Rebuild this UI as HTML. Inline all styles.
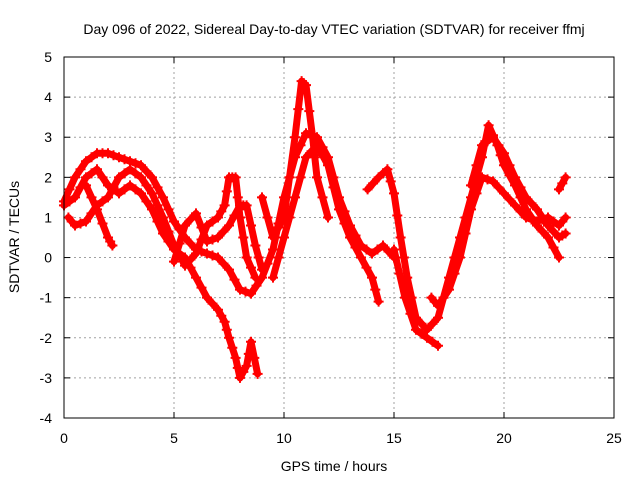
<!DOCTYPE html>
<html><head><meta charset="utf-8"><style>
body{margin:0;background:#fff;}
svg{display:block;font-family:"Liberation Sans",sans-serif;}
</style></head><body>
<svg id="chart" width="640" height="480" viewBox="0 0 640 480">
<rect width="640" height="480" fill="#fff"/>
<text x="334" y="34" font-size="14" text-anchor="middle">Day 096 of 2022, Sidereal Day-to-day VTEC variation (SDTVAR) for receiver ffmj</text>
<g id="grid"></g>
<g id="ticks"></g>
<g id="series"></g>
<rect x="64" y="57" width="550" height="361" fill="none" stroke="#000" stroke-width="1"/>
<text x="334" y="471" font-size="14" text-anchor="middle">GPS time / hours</text>
<text transform="translate(19,237) rotate(-90)" font-size="14" text-anchor="middle">SDTVAR / TECUs</text>
</svg>
<script>
const xTicks=[0,5,10,15,20,25];
const yTicks=[-4,-3,-2,-1,0,1,2,3,4,5];
const trackA=[[0,1.4],[0.5,2.0],[1,2.4],[1.5,2.6],[2,2.6],[2.5,2.5],[3,2.4],[3.5,2.3],[4,2.0],[4.5,1.5],[5,0.9],[5.5,0.5],[6,0.2],[6.5,0.1],[7,0.0],[7.5,-0.3],[8,-0.8],[8.5,-0.9],[9,-0.5],[9.5,0.2],[10,1.5],[10.5,2.5],[11,3.1],[11.5,3.0],[12,2.5],[12.5,1.5],[13,0.8],[13.5,0.3],[14,0.1],[14.5,0.3],[15,0.0]];
const trackB=[[0,1.3],[0.5,1.5],[1,2.0],[1.5,2.2],[2,1.8],[2.5,1.6],[3,1.8],[3.5,1.6],[4,1.2],[4.5,0.6],[5,0.2],[5.5,0.0],[6,-0.5],[6.5,-1.0],[7,-1.3],[7.3,-1.6],[7.5,-2.0],[7.8,-2.5],[8,-3.0],[8.3,-2.7],[8.5,-2.1],[8.8,-2.9]];
const trackC=[[0.2,1.0],[0.5,0.8],[1,0.9],[1.5,1.3],[2,1.5],[2.5,2.0],[3,2.2],[3.5,2.0],[4,1.6],[4.5,1.0],[5,0.3],[5.5,-0.2],[6,0.1],[6.5,0.8],[7,1.0],[7.3,1.3],[7.5,2.0],[7.8,2.0],[8,1.0],[8.3,0.0],[8.7,-0.5]];
const trackD=[[1,1.8],[1.5,1.2],[2,0.5],[2.2,0.3]];
const trackE=[[5,-0.1],[5.5,0.8],[6,1.1],[6.5,0.4],[7,0.5],[7.5,0.8],[8,1.3],[8.3,1.3],[8.7,0.3],[9,-0.3]];
const trackF=[[9,1.5],[9.5,0.5],[10,1.0],[10.5,3.0],[10.8,4.4],[11,4.3],[11.3,3.0],[11.5,2.0],[12,1.0]];
const trackG=[[9.5,-0.5],[10,0.5],[10.5,1.5],[11,2.5],[11.5,2.8],[12,2.3],[12.5,1.2],[13,0.5],[13.5,0.0],[14,-0.5],[14.3,-1.1]];
const trackH=[[13.8,1.7],[14.3,2.0],[14.7,2.2],[15,1.6],[15.3,0.5],[15.6,-0.5],[16,-1.5],[16.5,-1.8],[17,-1.5],[17.5,-0.5],[18,0.5],[18.5,1.5],[19,2.5],[19.3,3.3],[19.7,2.8],[20,2.3],[20.5,1.8],[21,1.2],[21.5,0.8],[22,0.5],[22.5,0.0]];
const trackI=[[15,0.2],[15.5,-1.0],[16,-1.8],[16.5,-2.0],[17,-2.2]];
const trackJ=[[16.7,-1.0],[17,-1.2],[17.5,-0.8],[18,0.0],[18.5,1.2],[19,2.0],[19.5,1.9],[20,1.6],[20.5,1.3],[21,1.0],[21.5,0.9],[22,1.0],[22.5,0.8],[22.8,1.0]];
const trackK=[[18.5,1.8],[19,2.8],[19.5,3.0],[20,2.6],[20.5,2.0],[21,1.5],[21.5,1.2],[22,0.8],[22.5,0.5],[22.8,0.6]];
const trackL=[[22.5,1.7],[22.8,2.0]];
const tracks=[trackA,trackB,trackC,trackD,trackE,trackF,trackG,trackH,trackI,trackJ,trackK,trackL];

const NS='http://www.w3.org/2000/svg';
const X0=64,X1=614,Y0=418,Y1=57;
function xs(v){return X0+(v-0)/(25-0)*(X1-X0);}
function ys(v){return Y0-(v+4)/9*(Y0-Y1);}
function mk(tag,attrs,parent){const e=document.createElementNS(NS,tag);for(const k in attrs)e.setAttribute(k,attrs[k]);parent.appendChild(e);return e;}
const grid=document.getElementById('grid'),ticks=document.getElementById('ticks'),series=document.getElementById('series');
xTicks.forEach(t=>{const x=xs(t);
 if(t>0&&t<25){const g=mk('line',{x1:x,x2:x,y1:Y1,y2:Y0,stroke:'#a0a0a0','stroke-dasharray':'2,3','stroke-width':1},grid);}
 mk('line',{x1:x,x2:x,y1:Y0,y2:Y0-6,stroke:'#000'},ticks);mk('line',{x1:x,x2:x,y1:Y1,y2:Y1+6,stroke:'#000'},ticks);
 const l=mk('text',{x:x,y:Y0+25,'font-size':14,'text-anchor':'middle'},ticks);l.textContent=t;
 });
yTicks.forEach(t=>{const y=ys(t);
 if(t>-4&&t<5){const g=mk('line',{x1:X0,x2:X1,y1:y,y2:y,stroke:'#a0a0a0','stroke-dasharray':'2,3','stroke-width':1},grid);}
 mk('line',{x1:X0,x2:X0+6,y1:y,y2:y,stroke:'#000'},ticks);mk('line',{x1:X1,x2:X1-6,y1:y,y2:y,stroke:'#000'},ticks);
 const l=mk('text',{x:X0-12,y:y+5,'font-size':14,'text-anchor':'end'},ticks);l.textContent=t;
 });
tracks.forEach(tr=>{
 const p=mk('polyline',{points:tr.map(d=>xs(d[0])+','+ys(d[1])).join(' '),fill:'none',stroke:'#f00','stroke-width':7,'stroke-linejoin':'round','stroke-linecap':'round'},series);
 
 
 for(let i=0;i<tr.length;i++){
  const d=tr[i];
  const pts=[[xs(d[0]),ys(d[1])]];
  if(i+1<tr.length){pts.push([(xs(d[0])+xs(tr[i+1][0]))/2,(ys(d[1])+ys(tr[i+1][1]))/2]);}
  pts.forEach(q=>{const x=q[0],y=q[1];
   const m=mk('path',{d:`M${x-5},${y}H${x+5}M${x},${y-5}V${y+5}`,stroke:'#f00','stroke-width':2},series);
   
   });
 }
});
</script>
</body></html>
